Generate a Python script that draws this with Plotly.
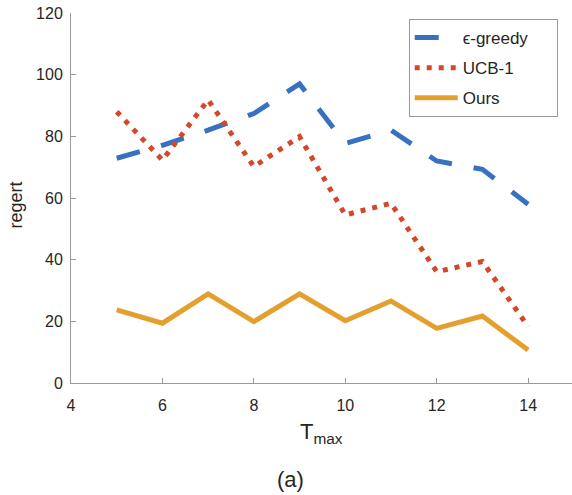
import plotly.graph_objects as go

t_max = [5, 6, 7, 8, 9, 10, 11, 12, 13, 14]
eps_greedy = [72.9, 77.1, 82.0, 87.4, 97.0, 77.7, 82.0, 72.0, 69.3, 58.0]
ucb1 = [88.0, 72.3, 91.8, 70.2, 79.9, 54.5, 58.3, 36.1, 39.4, 18.3]
ours = [23.7, 19.4, 28.9, 19.9, 28.9, 20.2, 26.6, 17.7, 21.7, 10.7]
series_names = ["\u03f5-greedy", "UCB-1", "Ours"]

x_ticks = [4, 6, 8, 10, 12, 14]
y_ticks = [0, 20, 40, 60, 80, 100, 120]

BLUE = "#3771C0"
RED = "#D4472A"
YELLOW = "#E4A02E"
FONT = "Liberation Sans, Arial, sans-serif"
AXC = "#9a9a9a"
TXT = "#262626"
PAD = "\u00a0" * 5  # right padding inside the legend box

fig = go.Figure()
fig.add_trace(go.Scatter(x=t_max, y=eps_greedy, mode="lines", name=series_names[0] + PAD,
                         legendgroup="a",
                         line=dict(color=BLUE, width=5, dash="24px,22px")))
fig.add_trace(go.Scatter(x=t_max, y=ucb1, mode="lines", name=series_names[1],
                         legendgroup="b",
                         line=dict(color=RED, width=5, dash="5px,7px")))
fig.add_trace(go.Scatter(x=t_max, y=ours, mode="lines", name=series_names[2],
                         legendgroup="c",
                         line=dict(color=YELLOW, width=5)))

L, R_, T, B = 70.5, 0, 13, 112
W, H = 572, 495
pw = W - L - R_
ph = H - T - B

def px_to_paper_x(px):
    return (px - L) / pw

def px_to_paper_y(py):
    return (H - B - py) / ph

fig.update_layout(
    width=W, height=H,
    margin=dict(l=L, r=R_, t=T, b=B, pad=0),
    paper_bgcolor="white", plot_bgcolor="white",
    font=dict(family=FONT, color=TXT, size=16),
    showlegend=True,
    legend=dict(
        x=px_to_paper_x(557.7), y=px_to_paper_y(19),
        xanchor="right", yanchor="top",
        bgcolor="white", bordercolor=AXC, borderwidth=1,
        font=dict(family=FONT, size=17, color=TXT),
        itemwidth=43, tracegroupgap=5,
    ),
    xaxis=dict(
        range=[4, 14.96], tickvals=x_ticks, ticktext=[str(v) for v in x_ticks],
        showgrid=False, zeroline=False, showline=True, linecolor=AXC, linewidth=1,
        ticks="inside", ticklen=5, tickcolor=AXC, tickwidth=1,
        tickfont=dict(family=FONT, size=16, color=TXT),
        ticklabelstandoff=8,
        mirror=False,
    ),
    yaxis=dict(
        range=[0, 120], tickvals=y_ticks, ticktext=[str(v) for v in y_ticks],
        showgrid=False, zeroline=False, showline=True, linecolor=AXC, linewidth=1,
        ticks="inside", ticklen=5, tickcolor=AXC, tickwidth=1,
        tickfont=dict(family=FONT, size=16, color=TXT),
        ticklabelstandoff=4,
        mirror=False,
    ),
    annotations=[
        dict(text="regert", textangle=-90, xref="paper", yref="paper",
             x=px_to_paper_x(15), y=px_to_paper_y(205), xanchor="center", yanchor="middle",
             showarrow=False, font=dict(family=FONT, size=18, color=TXT)),
        dict(text="T<sub>max</sub>", xref="paper", yref="paper",
             x=px_to_paper_x(321.5), y=px_to_paper_y(433), xanchor="center", yanchor="middle",
             showarrow=False, font=dict(family=FONT, size=22, color=TXT)),
        dict(text="(a)", xref="paper", yref="paper",
             x=px_to_paper_x(290.5), y=px_to_paper_y(479), xanchor="center", yanchor="middle",
             showarrow=False, font=dict(family=FONT, size=22, color=TXT)),
    ],
)

fig.write_html("out.html", config={"displayModeBar": False},
               post_script="document.body.style.margin='0';document.body.style.overflow='hidden';")
